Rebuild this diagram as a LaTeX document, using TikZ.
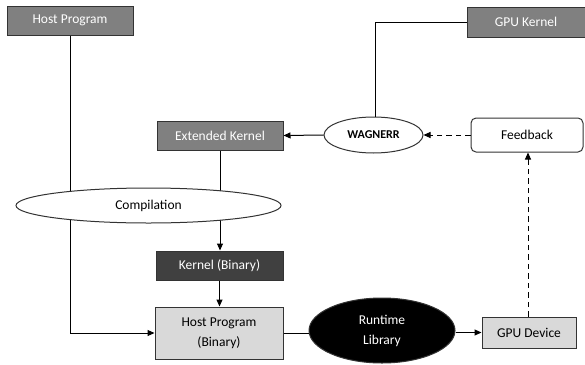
\documentclass[tikz,border=0pt]{standalone}
\usepackage{fontspec}
\setmainfont{Carlito}
\usetikzlibrary{arrows.meta,shapes.geometric}
\definecolor{midgray}{HTML}{808080}
\definecolor{darkgray}{HTML}{404040}
\definecolor{lightgray}{HTML}{D9D9D9}
\tikzset{
  base/.style={draw=black!80, line width=1pt, inner sep=0pt, align=center,
    font=\fontsize{13.5}{20}\selectfont},
  graybox/.style={base, fill=midgray, text=white, minimum width=126pt, minimum height=29pt},
  darkbox/.style={base, fill=darkgray, text=white, minimum width=127pt, minimum height=29pt},
  lightbox/.style={base, fill=lightgray, text=black},
  oval/.style={base, ellipse, fill=white},
  conn/.style={line width=1pt, black},
  arr/.style={conn, -{Triangle[length=7pt,width=6pt]}},
  darr/.style={arr, dash pattern=on 5.5pt off 4pt},
}
\begin{document}
\begin{tikzpicture}[x=1pt,y=-1pt]
\useasboundingbox (0,0) rectangle (585,364);

% source boxes
\node[graybox] (host) at (70,20.5) {Host Program};
\node[graybox, minimum width=118pt, minimum height=30pt] (gpuk) at (526,22) {GPU Kernel};
\node[graybox] (ext) at (220,135.5) {Extended Kernel};

% instrumentation and feedback
\node[oval, minimum width=99pt, minimum height=36pt,
      font=\fontsize{12}{14}\selectfont\bfseries] (wag) at (373.5,135) {WAGNERR};
\node[base, rounded corners=5pt, fill=white, minimum width=112pt, minimum height=34pt] (fb) at (527,135) {Feedback};

% compilation and binaries
\node[darkbox] (kbin) at (219.5,265.5) {Kernel (Binary)};
\node[lightbox, minimum width=128pt, minimum height=52pt] (hbin) at (219,333) {Host Program\\(Binary)};
\node[oval, fill=black, text=white, minimum width=146pt, minimum height=65pt] (rt) at (382,330.5) {Runtime\\Library};
\node[lightbox, minimum width=94pt, minimum height=31pt] (dev) at (529,332.5) {GPU Device};

% connectors running behind the compilation ellipse
\draw[arr] (host.south) |- (hbin.west);
\draw[arr] (ext.south) -- (ext.south |- kbin.north);
\node[oval, minimum width=265pt, minimum height=35pt] (comp) at (148.5,205.5) {Compilation};

\draw[arr] (kbin.south) -- (kbin.south |- hbin.north);
\draw[conn] (hbin.east) -- (rt.west |- hbin.east);
\draw[arr] (rt.east |- dev.west) -- (dev.west);
\draw[darr] (dev.north -| 528,0) -- (fb.south -| 528,0);
\draw[darr] (fb.west) -- (wag.east);
\draw[arr] (wag.west) -- (ext.east);
\draw[conn] (gpuk.west) -| (375,0 |- wag.north);
\end{tikzpicture}
\end{document}
